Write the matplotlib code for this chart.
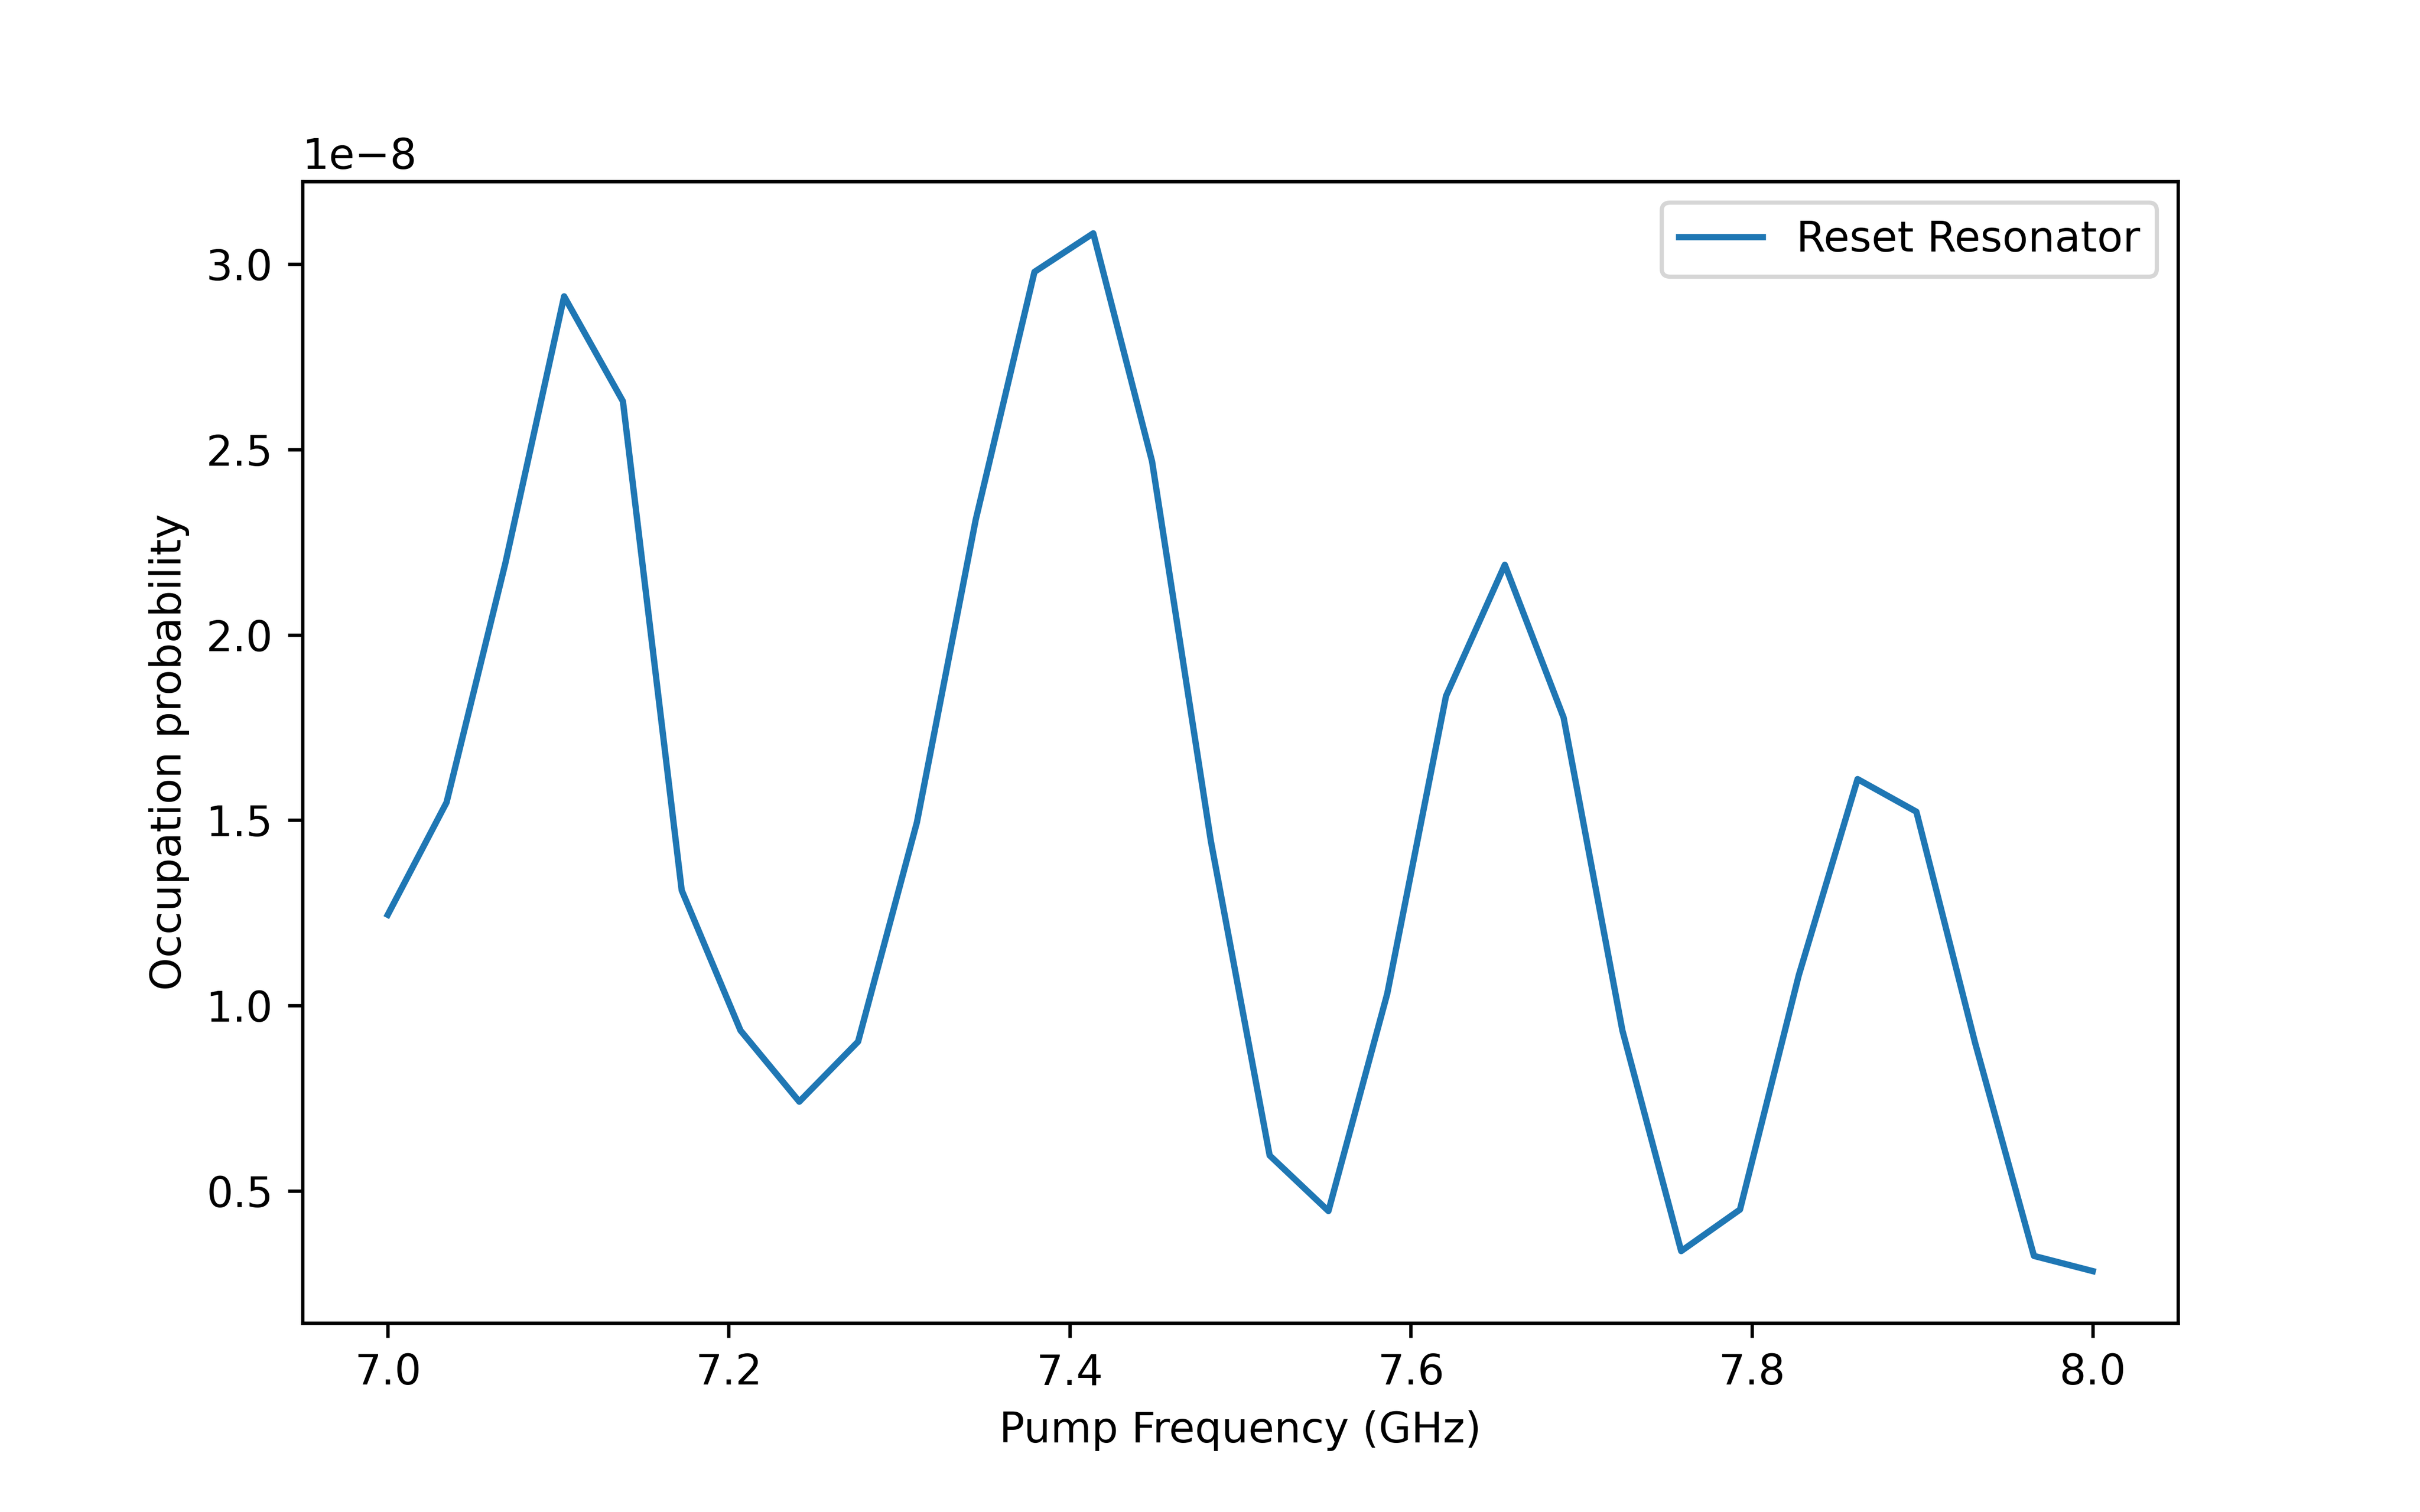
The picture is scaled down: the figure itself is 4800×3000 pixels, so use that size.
import numpy as np
import matplotlib
matplotlib.use("Agg")
import matplotlib.pyplot as plt

freq = np.linspace(7.0, 8.0, 30)
occupation = np.array([
    1.245, 1.548, 2.193, 2.913, 2.630, 1.311, 0.933, 0.741, 0.903, 1.494,
    2.310, 2.979, 3.083, 2.468, 1.444, 0.596, 0.446, 1.032, 1.835, 2.189,
    1.777, 0.933, 0.338, 0.450, 1.082, 1.611, 1.523, 0.899, 0.325, 0.284,
]) * 1e-8

fig, ax = plt.subplots(figsize=(8, 5))
fig.subplots_adjust(left=0.125, right=0.9, bottom=0.125, top=0.88)
ax.plot(freq, occupation, label="Reset Resonator")
ax.set_xlabel("Pump Frequency (GHz)")
ax.set_ylabel("Occupation probability")
ax.legend()
fig.savefig("out.png", dpi=600)
